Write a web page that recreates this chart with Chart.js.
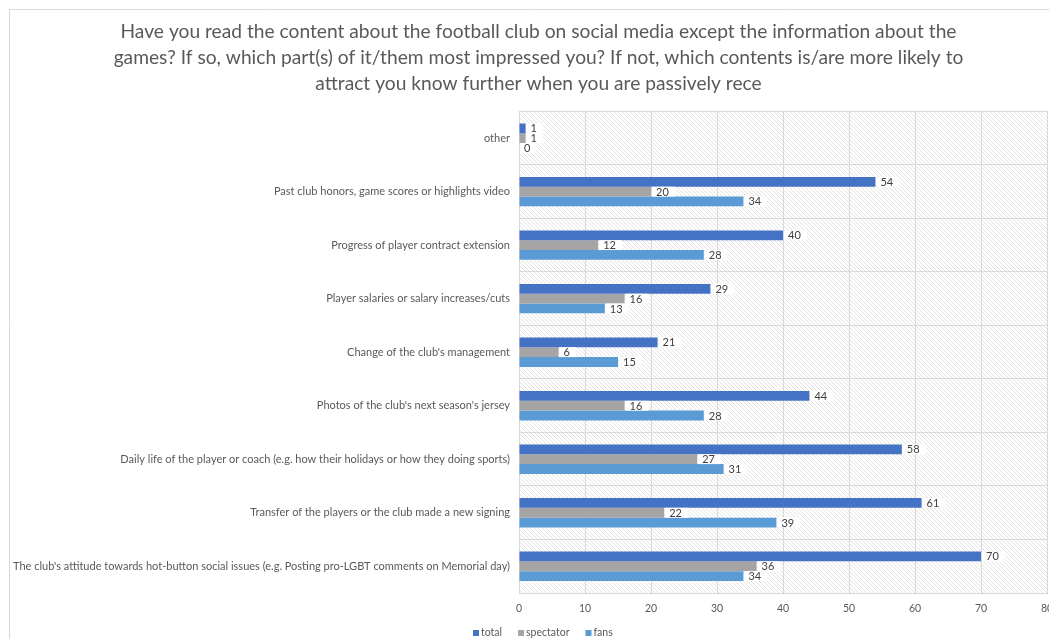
<!DOCTYPE html>
<html>
<head>
<meta charset="utf-8">
<script src="https://cdn.jsdelivr.net/npm/chart.js@4/dist/chart.umd.min.js"></script>
<style>
  html, body { margin: 0; padding: 0; background: #ffffff; }
  #wrap { width: 1049px; height: 639px; }
</style>
</head>
<body>
<div id="wrap"><canvas id="c" width="1049" height="639"></canvas></div>
<script>
// Survey answers: which club content (besides match info) readers noticed
const categories = [
  "other",
  "Past club honors, game scores or highlights video",
  "Progress of player contract extension",
  "Player salaries or salary increases/cuts",
  "Change of the club's management",
  "Photos of the club's next season's jersey",
  "Daily life of the player or coach (e.g. how their holidays or how they doing sports)",
  "Transfer of the players or the club made a new signing",
  "The club's attitude towards hot-button social issues (e.g. Posting pro-LGBT comments on Memorial day)"
];
const totalValues     = [1, 54, 40, 29, 21, 44, 58, 61, 70];
const spectatorValues = [1, 20, 12, 16, 6, 16, 27, 22, 36];
const fansValues      = [0, 34, 28, 13, 15, 28, 31, 39, 34];
const seriesNames = ["total", "spectator", "fans"];
const titleLines = [
  "Have you read the content about the football club on social media except the information about the",
  "games? If so, which part(s) of it/them most impressed you? If not, which contents is/are more likely to",
  "attract you know further when you are passively rece"
];
const xTicks = [0, 10, 20, 30, 40, 50, 60, 70, 80];

const COLORS = ["#4472C4", "#A5A5A5", "#5B9BD5"];
const TEXT = "#595959";
const GRID = "#d9d9d9";
const FONT = "Lato, 'Open Sans', sans-serif";

// Centre the title over the framed panel rather than the canvas
const titleShift = {
  id: "titleShift",
  afterLayout(chart) {
    if (chart.titleBlock) {
      chart.titleBlock.left = 28;
      chart.titleBlock.right = chart.width;
    }
  }
};

// Outer frame plus diagonal hatching behind the plot area
const backdrop = {
  id: "backdrop",
  beforeDraw(chart) {
    const { ctx, chartArea: a } = chart;
    ctx.save();
    ctx.strokeStyle = GRID;
    ctx.lineWidth = 1;
    ctx.beginPath();
    ctx.moveTo(9.5, chart.height);
    ctx.lineTo(9.5, 9.5);
    ctx.lineTo(chart.width, 9.5);
    ctx.stroke();

    ctx.beginPath();
    ctx.rect(a.left, a.top, a.right - a.left, a.bottom - a.top);
    ctx.clip();
    ctx.strokeStyle = "rgba(0,0,0,0.11)";
    const h = a.bottom - a.top;
    ctx.beginPath();
    for (let x = a.left - h; x < a.right; x += 4) {
      ctx.moveTo(x, a.top);
      ctx.lineTo(x + h, a.bottom);
    }
    ctx.stroke();
    ctx.restore();
  }
};

// Value labels on white boxes at the end of each bar
const valueLabels = {
  id: "valueLabels",
  afterDatasetsDraw(chart) {
    const { ctx } = chart;
    ctx.save();
    ctx.font = "11px " + FONT;
    ctx.textBaseline = "middle";
    chart.data.datasets.forEach((ds, di) => {
      const meta = chart.getDatasetMeta(di);
      meta.data.forEach((bar, i) => {
        const txt = String(ds.data[i]);
        const w = ctx.measureText(txt).width;
        const bh = bar.height;
        ctx.fillStyle = "#ffffff";
        ctx.fillRect(bar.x + 1, bar.y - bh / 2, w + 10, bh);
        ctx.fillStyle = "#404040";
        ctx.fillText(txt, bar.x + 5, bar.y + 0.5);
      });
    });
    ctx.restore();
  }
};

// Compact legend under the axis
const bottomLegend = {
  id: "bottomLegend",
  afterDraw(chart) {
    const { ctx } = chart;
    ctx.save();
    ctx.font = "10.5px " + FONT;
    ctx.textBaseline = "middle";
    let x = 473;
    const y = 633;
    chart.data.datasets.forEach((ds) => {
      ctx.fillStyle = ds.backgroundColor;
      ctx.fillRect(x, y - 3, 6, 6);
      ctx.fillStyle = TEXT;
      ctx.fillText(ds.label, x + 8, y);
      x += 8 + ctx.measureText(ds.label).width + 16;
    });
    ctx.restore();
  }
};

new Chart(document.getElementById("c"), {
  type: "bar",
  data: {
    labels: categories,
    datasets: [
      { label: seriesNames[0], data: totalValues, backgroundColor: COLORS[0] },
      { label: seriesNames[1], data: spectatorValues, backgroundColor: COLORS[1] },
      { label: seriesNames[2], data: fansValues, backgroundColor: COLORS[2] }
    ]
  },
  options: {
    indexAxis: "y",
    responsive: false,
    animation: false,
    categoryPercentage: 0.55,
    barPercentage: 1,
    layout: { padding: { left: 0, right: 2, top: 0, bottom: 24 } },
    plugins: {
      legend: { display: false },
      tooltip: { enabled: false },
      title: {
        display: true,
        text: titleLines,
        color: TEXT,
        font: { family: FONT, size: 19.2, weight: "normal", lineHeight: 1.36 },
        padding: { top: 19, bottom: 14 }
      }
    },
    scales: {
      x: {
        min: 0,
        max: 80,
        afterBuildTicks(scale) { scale.ticks = xTicks.map(v => ({ value: v })); },
        afterFit(scale) { scale.height = 22; scale.paddingLeft = 0; scale.paddingRight = 0; },
        grid: { color: GRID, drawTicks: false },
        border: { color: GRID },
        ticks: { color: TEXT, padding: 9, font: { family: FONT, size: 10.5 }, maxRotation: 0 }
      },
      y: {
        afterFit(scale) { scale.width = 519; },
        grid: { color: GRID, drawTicks: false, offset: true },
        border: { display: false },
        ticks: { color: TEXT, padding: 9, autoSkip: false, font: { family: FONT, size: 11 } }
      }
    }
  },
  plugins: [titleShift, backdrop, valueLabels, bottomLegend]
});
</script>
</body>
</html>
